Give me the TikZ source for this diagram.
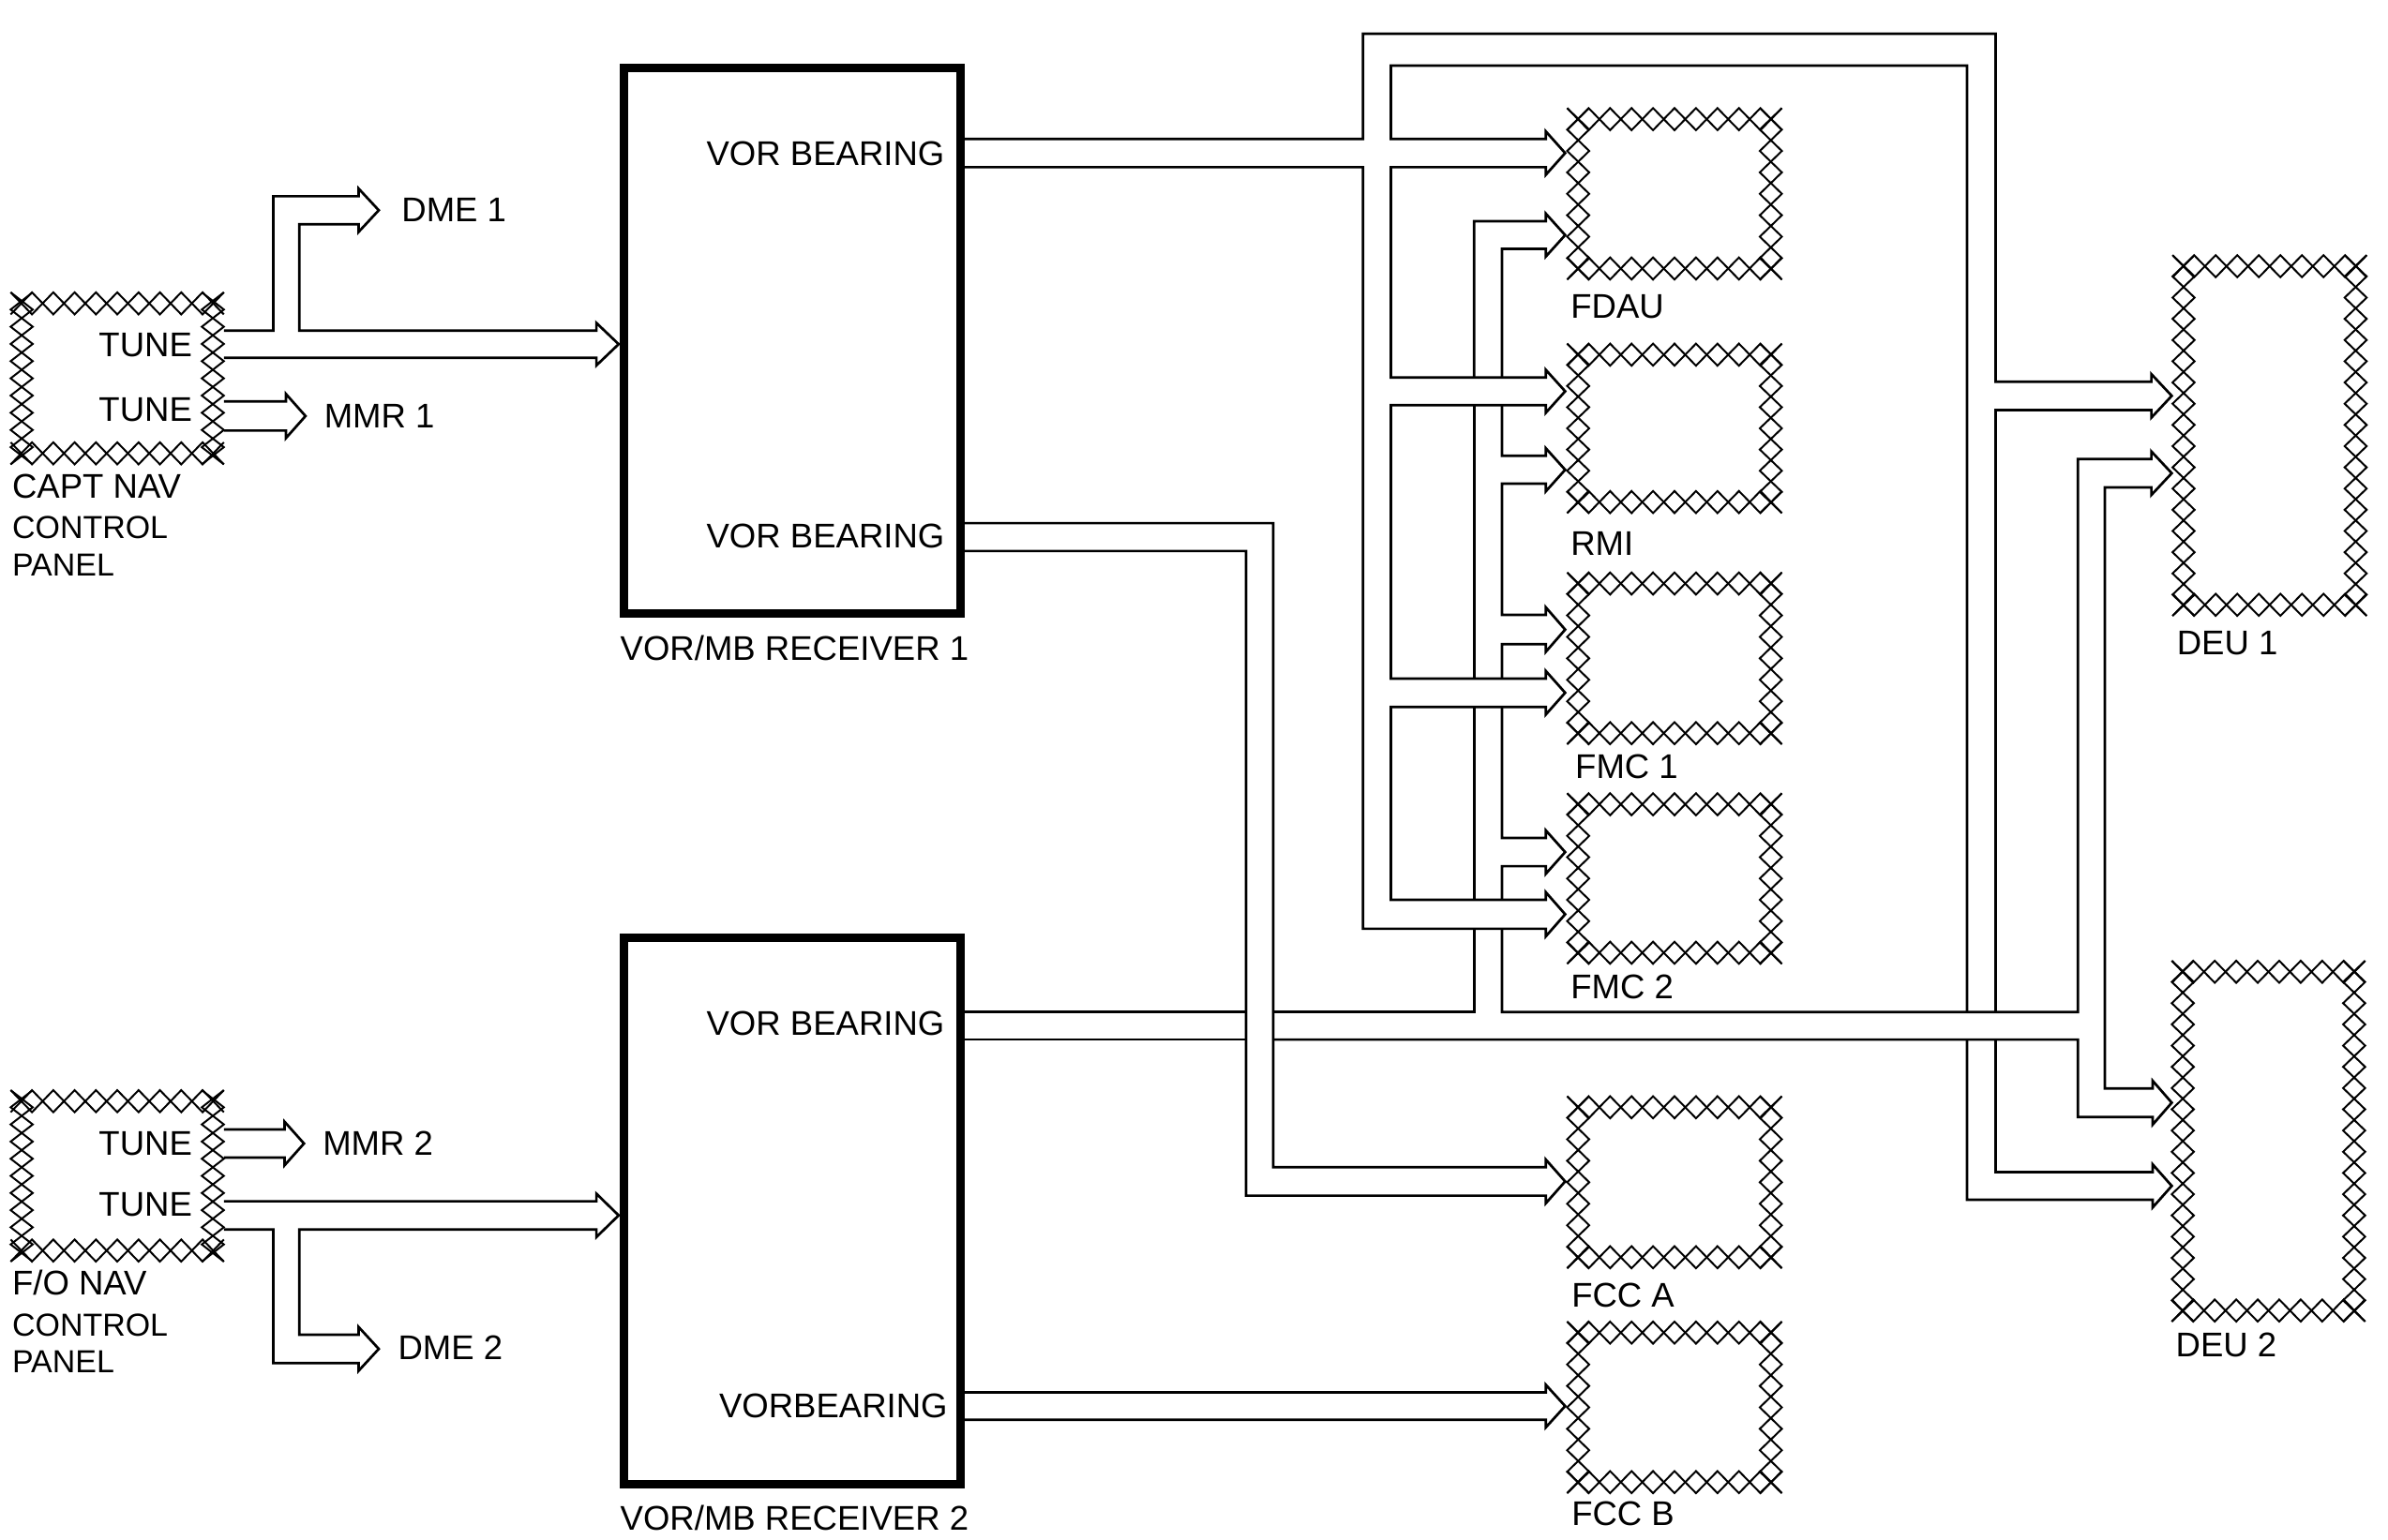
\documentclass[tikz,border=0pt]{standalone}
\usepackage{fontspec}
\setmainfont{Liberation Sans}
\usetikzlibrary{fit}
% open arrow head, continuing a path that is at (#1,#2); ends at (#1,#3)
\newcommand\hd[4]{-- (#1,#2-5) -- ({#1+#4},{(#2+#3)/2}) -- (#1,#3+5) -- (#1,#3)}
\newcommand\bw{14.5}
\newcommand\hzz[5]{%
  \draw[hatchln] (#1,#3) \foreach \k in {1,...,#5}{ -- ({#1+(#2-#1)*\k/#5},{ifthenelse(mod(\k,2)==1,#4,#3)}) };
  \draw[hatchln] (#1,#4) \foreach \k in {1,...,#5}{ -- ({#1+(#2-#1)*\k/#5},{ifthenelse(mod(\k,2)==1,#3,#4)}) };
}
\newcommand\vzz[5]{%
  \draw[hatchln] (#3,#1) \foreach \k in {1,...,#5}{ -- ({ifthenelse(mod(\k,2)==1,#4,#3)},{#1+(#2-#1)*\k/#5}) };
  \draw[hatchln] (#4,#1) \foreach \k in {1,...,#5}{ -- ({ifthenelse(mod(\k,2)==1,#3,#4)},{#1+(#2-#1)*\k/#5}) };
}
\newcommand\hatchbox[7]{%
  \node[fit={(#2,#3)(#4,#5)},inner sep=0pt] (#1) {};
  \hzz{#2}{#4}{#3}{#3+\bw}{#6}
  \hzz{#2}{#4}{#5}{#5-\bw}{#6}
  \vzz{#3}{#5}{#2}{#2+\bw}{#7}
  \vzz{#3}{#5}{#4}{#4-\bw}{#7}
}
\begin{document}
\begin{tikzpicture}[x=0.02cm,y=-0.02cm,
  hatchln/.style={line width=0.7pt, line join=miter},
  bus/.style={line width=0.95pt, line join=miter},
  rcv/.style={draw, line width=3.2pt, inner sep=0pt},
  lbl/.style={font=\fontsize{12.8}{14}\selectfont, inner sep=0pt},
  slbl/.style={font=\fontsize{11.9}{14}\selectfont, inner sep=0pt}]
\useasboundingbox (0,0) rectangle (1568,1011);

% ---------- boxes ----------
\hatchbox{capt}{7}{192}{147}{305}{10}{10}
\hatchbox{fo}{7}{716}{147}{828.6}{10}{10}
\hatchbox{fdau}{1029}{71}{1170}{183.6}{10}{8}
\hatchbox{rmi}{1029}{225.7}{1170}{337}{10}{8}
\hatchbox{fmca}{1029}{376}{1170}{488.8}{10}{8}
\hatchbox{fmcb}{1029}{521}{1170}{633}{10}{8}
\hatchbox{fcca}{1029}{720}{1170}{833}{10}{8}
\hatchbox{fccb}{1029}{868}{1170}{980.7}{10}{8}
\hatchbox{deua}{1426.5}{167.6}{1554}{404.5}{9}{17}
\hatchbox{deub}{1426}{631}{1553}{868}{9}{17}
\node[rcv, fit={(409.5,44.5)(630.5,403)}] (r1) {};
\node[rcv, fit={(409.5,616)(630.5,975)}] (r2) {};

% ---------- labels ----------
\node[lbl,anchor=base east] (tune1) at (126.5,234.5) {TUNE};
\node[lbl,anchor=base east] (tune2) at (126.5,276.7) {TUNE};
\node[lbl,anchor=base west] (dme1) at (263.4,145.9) {DME 1};
\node[lbl,anchor=base west] (mmr1) at (212.5,280.8) {MMR 1};
\node[lbl,anchor=base west] (captl) at (7.7,326.9) {CAPT NAV};
\node[slbl,anchor=base west] (captc) at (7.7,353.7) {CONTROL};
\node[slbl,anchor=base west] (captp) at (7.7,378.3) {PANEL};
\node[lbl,anchor=base east] (vb1) at (620.5,108.9) {VOR BEARING};
\node[lbl,anchor=base east] (vb2) at (620.5,359.9) {VOR BEARING};
\node[lbl,anchor=base west] (r1l) at (407,433.9) {VOR/MB RECEIVER 1};
\node[lbl,anchor=base east] (vb3) at (620.5,679.9) {VOR BEARING};
\node[lbl,anchor=base east] (vb4) at (622.5,930.9) {VORBEARING};
\node[lbl,anchor=base west] (r2l) at (407,1004.9) {VOR/MB RECEIVER 2};
\node[lbl,anchor=base east] (tune3) at (126.5,758.9) {TUNE};
\node[lbl,anchor=base east] (tune4) at (126.5,798.9) {TUNE};
\node[lbl,anchor=base west] (mmr2) at (211.6,758.9) {MMR 2};
\node[lbl,anchor=base west] (dme2) at (261,892.9) {DME 2};
\node[lbl,anchor=base west] (fol) at (7.7,850.2) {F/O NAV};
\node[slbl,anchor=base west] (foc) at (7.7,877.4) {CONTROL};
\node[slbl,anchor=base west] (fop) at (7.7,901.5) {PANEL};
\node[lbl,anchor=base west] (fdaul) at (1031,208.9) {FDAU};
\node[lbl,anchor=base west] (rmil) at (1031,364.8) {RMI};
\node[lbl,anchor=base west] (fmcal) at (1034,511.5) {FMC 1};
\node[lbl,anchor=base west] (fmcbl) at (1031,655.8) {FMC 2};
\node[lbl,anchor=base west] (fccal) at (1031.6,858.4) {FCC A};
\node[lbl,anchor=base west] (fccbl) at (1031.6,1001.9) {FCC B};
\node[lbl,anchor=base west] (deual) at (1429,429.7) {DEU 1};
\node[lbl,anchor=base west] (deubl) at (1428.3,890.9) {DEU 2};

% ---------- CAPT panel outputs ----------
\draw[bus] (147,217.1) -- (179.5,217.1) -- (179.5,128.9) -- (235.5,128.9) \hd{235.5}{128.9}{147.3}{13.2}
  -- (196.5,147.3) -- (196.5,217.1) -- (391.6,217.1) \hd{391.6}{217.1}{235}{14.6} -- (147,235);
\draw[bus] (147,263.7) -- (187.7,263.7) \hd{187.7}{263.7}{282.8}{12.9} -- (147,282.8);

% ---------- F/O panel outputs ----------
\draw[bus] (147,741.8) -- (186.9,741.8) \hd{186.9}{741.8}{760.3}{12.7} -- (147,760.3);
\draw[bus] (147,789) -- (391.6,789) \hd{391.6}{789}{807.5}{14.6} -- (196.5,807.5) -- (196.5,876.6)
  -- (235.5,876.6) \hd{235.5}{876.6}{895.3}{13.2} -- (179.5,895.3) -- (179.5,807.5) -- (147,807.5);

% ---------- receiver 1 VOR bearing (top) ----------
\draw[bus] (633,91.3) -- (894.9,91.3) -- (894.9,22.2) -- (1310.3,22.2) -- (1310.3,250.7)
  -- (1412.6,250.7) \hd{1412.6}{250.7}{269.3}{13.4} -- (1310.3,269.3) -- (1310.3,664.7);
\draw[bus] (1310.3,682.8) -- (1310.3,769.8) -- (1413.5,769.8) \hd{1413.5}{769.8}{788}{12.5}
  -- (1291.6,788) -- (1291.6,682.8);
\draw[bus] (1291.6,664.7) -- (1291.6,43.1) -- (913.3,43.1) -- (913.3,91.3) -- (1015,91.3)
  \hd{1015}{91.3}{109.8}{12.7} -- (913.3,109.8) -- (913.3,247.9) -- (1015,247.9)
  \hd{1015}{247.9}{266.1}{12.7} -- (913.3,266.1) -- (913.3,445.7) -- (1015,445.7)
  \hd{1015}{445.7}{464.3}{12.7} -- (913.3,464.3) -- (913.3,591) -- (1015,591)
  \hd{1015}{591}{610}{12.7} -- (894.9,610) -- (894.9,109.8) -- (633,109.8);

% ---------- receiver 2 VOR bearing (top) ----------
\draw[bus] (967.9,247.9) -- (967.9,145.3) -- (1015,145.3) \hd{1015}{145.3}{163.5}{12.7}
  -- (986.2,163.5) -- (986.2,247.9);
\draw[bus] (967.9,266.1) -- (967.9,445.7);
\draw[bus] (967.9,464.3) -- (967.9,591);
\draw[bus] (967.9,610) -- (967.9,664.7) -- (836,664.7);
\draw[bus] (818.2,664.7) -- (633,664.7);
\draw[bus] (986.2,266.1) -- (986.2,299.4) -- (1015,299.4) \hd{1015}{299.4}{317.7}{12.7}
  -- (986.2,317.7) -- (986.2,403.9) -- (1015,403.9) \hd{1015}{403.9}{423.1}{12.7}
  -- (986.2,423.1) -- (986.2,445.7);
\draw[bus] (986.2,464.3) -- (986.2,550.4) -- (1015,550.4) \hd{1015}{550.4}{568.9}{12.7}
  -- (986.2,568.9) -- (986.2,591);
\draw[bus] (986.2,610) -- (986.2,664.7) -- (1364.3,664.7) -- (1364.3,301.5) -- (1412.6,301.5)
  \hd{1412.6}{301.5}{320.1}{13.4} -- (1382,320.1) -- (1382,714.9) -- (1413.5,714.9)
  \hd{1413.5}{714.9}{733.6}{12.5} -- (1364.3,733.6) -- (1364.3,682.8) -- (836,682.8);
\draw[bus] (818.2,682.8) -- (633,682.8);

% ---------- receiver 1 VOR bearing (lower) -> FCC A ----------
\draw[bus] (633,343.6) -- (836,343.6) -- (836,766.6) -- (1015,766.6) \hd{1015}{766.6}{785.3}{12.7}
  -- (818.2,785.3) -- (818.2,361.9) -- (633,361.9);

% ---------- receiver 2 VOR bearing (lower) -> FCC B ----------
\draw[bus] (633,914.5) -- (1015,914.5) \hd{1015}{914.5}{932.5}{12.7} -- (633,932.5);
\end{tikzpicture}
\end{document}
